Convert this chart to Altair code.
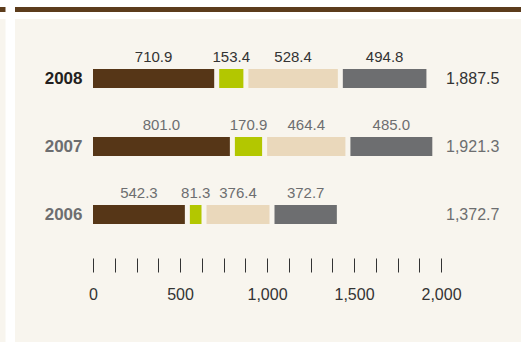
import altair as alt
import pandas as pd

years = ["2008", "2007", "2006"]
series = ["S1", "S2", "S3", "S4"]
s1 = [710.9, 801.0, 542.3]
s2 = [153.4, 170.9, 81.3]
s3 = [528.4, 464.4, 376.4]
s4 = [494.8, 485.0, 372.7]
totals = [1887.5, 1921.3, 1372.7]
tick_values = list(range(0, 2001, 125))
X_MAX = 2000

colors = ["#563617", "#b3c700", "#ead8bb", "#6d6e70"]
FONT = "Liberation Sans"
PANEL = "#f8f5ee"

W, H = 348, 258
GAP = 2.5 * X_MAX / W  # half of the visual gap, in data units

rows = []
for yi, yr in enumerate(years):
    vals = [s1[yi], s2[yi], s3[yi], s4[yi]]
    cum = 0.0
    for i, v in enumerate(vals):
        start = cum + i * GAP
        end = cum + v + (i - 1) * GAP
        rows.append({"year": yr, "series": series[i], "value": v,
                     "start": start, "end": end, "mid": (start + end) / 2})
        cum += v
bars_df = pd.DataFrame(rows)
tot_df = pd.DataFrame({"year": years, "total": totals})

x_axis = alt.Axis(values=tick_values, tickSize=14, tickColor="#333333", tickWidth=1,
                  domain=False, grid=False, title=None, labelFont=FONT, labelFontSize=16,
                  labelColor="#333333", labelPadding=14, zindex=1,
                  labelFlush=False, labelOverlap=False,
                  labelExpr="datum.value % 500 === 0 ? format(datum.value, ',') : ''")
x_scale = alt.Scale(domain=[0, X_MAX], nice=False, zero=True)
y_enc = alt.Y("year:N", sort=years, title=None,
              scale=alt.Scale(type="point", range=[78.5, 214.5], padding=0),
              axis=alt.Axis(domain=False, ticks=False, labelPadding=11, labelFont=FONT,
                            labelFontSize=17, labelFontWeight="bold", zindex=1,
                            labelColor=alt.expr("datum.label == '2008' ? '#231f20' : '#6d6e70'")))

one = pd.DataFrame({"k": [0]})
panel = alt.Chart(one).mark_rect(color=PANEL).encode(
    x=alt.value(-78), x2=alt.value(428), y=alt.value(19), y2=alt.value(342))
strip = alt.Chart(one).mark_rect(color=PANEL).encode(
    x=alt.value(-93), x2=alt.value(-87.5), y=alt.value(19), y2=alt.value(342))
top1 = alt.Chart(one).mark_rect(color="#5c3c1c").encode(
    x=alt.value(-78), x2=alt.value(428), y=alt.value(7), y2=alt.value(12))
top2 = alt.Chart(one).mark_rect(color="#5c3c1c").encode(
    x=alt.value(-93), x2=alt.value(-87.5), y=alt.value(7), y2=alt.value(12))

bars = alt.Chart(bars_df).mark_bar(size=19).encode(
    x=alt.X("start:Q", scale=x_scale, axis=x_axis, title=None),
    x2="end:Q",
    y=y_enc,
    color=alt.Color("series:N", scale=alt.Scale(domain=series, range=colors), legend=None),
)

dark = alt.condition(alt.datum.year == "2008", alt.value("#333333"), alt.value("#6d6e70"))

vlabels = alt.Chart(bars_df).mark_text(font=FONT, fontSize=15, baseline="alphabetic",
                                       align="center", dy=-17).encode(
    x=alt.X("mid:Q", scale=x_scale, axis=x_axis, title=None),
    y=y_enc,
    text=alt.Text("value:Q", format=".1f"),
    color=dark,
)

tlabels = alt.Chart(tot_df).mark_text(font=FONT, fontSize=16, baseline="middle",
                                      align="left", dx=5).encode(
    x=alt.datum(X_MAX, scale=x_scale, axis=x_axis),
    y=y_enc,
    text=alt.Text("total:Q", format=",.1f"),
    color=dark,
)

chart = alt.layer(panel, strip, top1, top2, bars, vlabels, tlabels).properties(
    width=W, height=H,
    autosize=alt.AutoSizeParams(type="none"),
    padding={"left": 93, "top": 0, "right": 80, "bottom": 84},
    background="white",
).configure_view(stroke=None)

chart.save("out.html", embed_options={"renderer": "svg", "actions": False})
